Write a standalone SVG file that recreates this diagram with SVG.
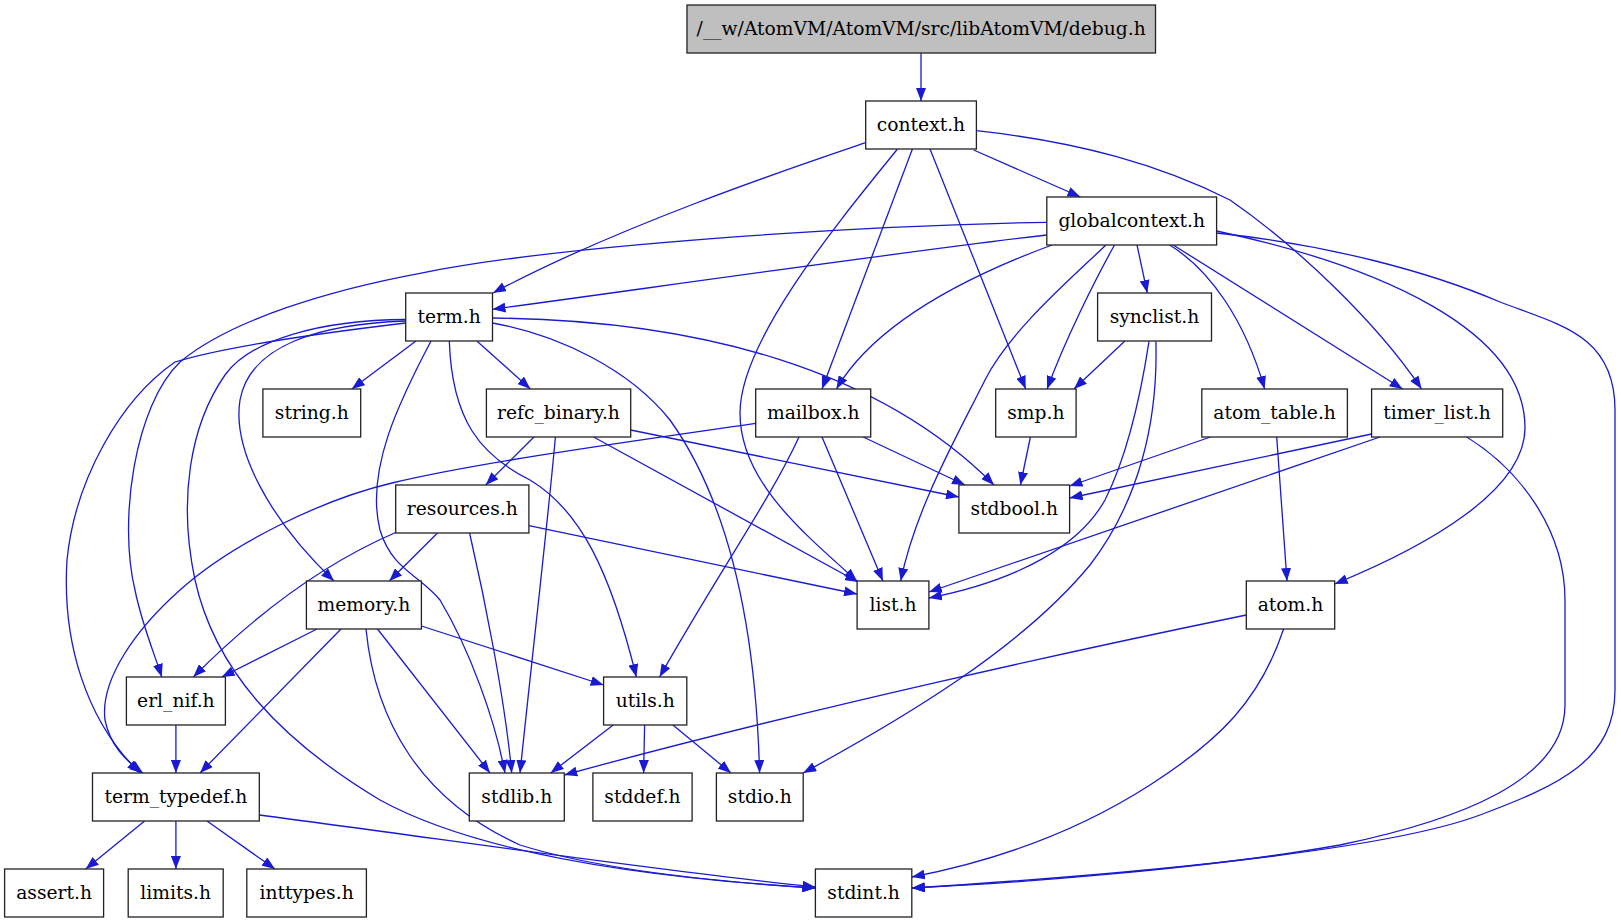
<svg xmlns="http://www.w3.org/2000/svg" width="1621" height="923" viewBox="0 0 1621 923">
<style>
.n rect{fill:#ffffff;stroke:#222222;stroke-width:1.3}
.root rect{fill:#bfbfbf}
.n text{font-family:"DejaVu Serif","Liberation Serif",serif;font-size:18.7px;text-anchor:middle;fill:#000}
#edges path{fill:none;stroke:#1a1ad0;stroke-width:1.3;marker-end:url(#ah)}
</style>
<defs>
<marker id="ah" markerUnits="userSpaceOnUse" markerWidth="14" markerHeight="10" refX="13" refY="5" orient="auto">
<path d="M0,0 L13,5 L0,10 z" fill="#1a1ad0"/>
</marker>
</defs>
<rect width="1621" height="923" fill="#ffffff"/>
<g id="edges">
<path d="M921,53 L921,101"/>
<path d="M865.7,142.7 C800,165 620,225 493,293"/>
<path d="M897.5,149 C840,220 740,340 740,413 C740,480 800,530 857,581"/>
<path d="M912.4,149 L822,389"/>
<path d="M930,149 L1025.7,389"/>
<path d="M973.7,150 L1080.4,197"/>
<path d="M976.4,130.7 C1080,142 1160,165 1230,200 C1295,245 1375,320 1421.6,389"/>
<path d="M1046.8,222.3 C850,226 560,245 420,273.3 C330,290 230,320 180,362 C135,405 118,520 135,590 C142,625 155,655 161.7,677"/>
<path d="M1046.8,235 C900,252 650,288 492.5,309.3"/>
<path d="M1052,245 C990,268 880,315 836.4,389"/>
<path d="M1105.9,245 C1075,275 1010,330 985,380 C955,440 915,510 900.7,581"/>
<path d="M1114.5,245 C1095,280 1065,340 1047.1,389"/>
<path d="M1137,245 L1147.3,293"/>
<path d="M1169.7,245 C1210,270 1245,320 1264.6,389"/>
<path d="M1173.2,245 L1402.6,389"/>
<path d="M1216.6,231 C1380,266 1525,330 1525,427.7 C1525,490 1430,545 1334.7,584"/>
<path d="M1216.6,233 C1330,245 1430,272 1500,302 C1560,325 1615,335 1615,410 L1615,690 C1615,760 1560,785 1480,815 C1400,845 1200,870 911.8,888"/>
<path d="M416,341 L351.8,389"/>
<path d="M476.8,341 L530.4,389"/>
<path d="M405.7,321 C320,324 250,345 240,400 C232,450 270,520 334,581"/>
<path d="M431,341 C400,400 365,470 380,530 C392,570 420,575 440,600 C470,650 495,720 505,773"/>
<path d="M449.3,341 C452,420 480,455 530,480 C580,510 610,570 636.4,677"/>
<path d="M492.5,323 C560,335 630,370 670,420 C720,490 755,600 759.6,773"/>
<path d="M492.5,318 C700,320 880,370 994,485"/>
<path d="M405.7,323 C330,332 230,345 175,362 C120,400 75,480 67,560 C62,640 85,720 140,773"/>
<path d="M405.7,319.5 C320,320 250,340 225,375 C190,425 178,500 195,580 C215,670 280,740 380,800 C480,855 650,878 815.4,888"/>
<path d="M534,437 L485.7,485"/>
<path d="M593.6,437 L858,582"/>
<path d="M630.7,430 L958.9,497"/>
<path d="M437.5,533 L389.3,581"/>
<path d="M395.7,532.5 C320,565 250,620 193.3,677"/>
<path d="M469.6,533 C485,600 505,700 511.7,773"/>
<path d="M528.9,525.7 L857,594"/>
<path d="M555.4,437 C548,520 535,630 520,773"/>
<path d="M317,629 L221.7,677"/>
<path d="M341,629 L200,773"/>
<path d="M377.5,629 L490,773"/>
<path d="M421.4,626 L603.6,685"/>
<path d="M366,629 C375,720 420,800 520,845 C600,870 720,882 815.4,888"/>
<path d="M755.7,423.3 C640,440 480,462 392,483 C320,500 230,545 180,590 C135,630 100,680 105,720 C110,745 125,760 143,773"/>
<path d="M799,437 C770,500 720,570 659.6,677"/>
<path d="M822,437 L882.9,581"/>
<path d="M863.2,437 L965,485"/>
<path d="M1030.4,437 L1020.4,485"/>
<path d="M1124.9,341 L1074,389"/>
<path d="M1149,341.3 C1140,400 1125,460 1105,500 C1080,545 1020,580 928.9,598"/>
<path d="M1155.9,341.3 C1158,420 1140,500 1090,565 C1020,650 900,720 803.2,773"/>
<path d="M1210.4,437 L1069.6,486"/>
<path d="M1276.7,437 L1287,581"/>
<path d="M1371.6,434 L1069.6,498"/>
<path d="M1380,437 L928.9,592"/>
<path d="M1466.7,437 C1520,470 1565,530 1565,600 L1565,705 C1565,780 1460,820 1340,845 C1200,870 1000,884 911.8,888"/>
<path d="M1246.3,615 C1100,645 800,710 564.3,775"/>
<path d="M1283.6,629 C1260,700 1220,740 1150,785 C1080,830 1000,860 911.8,877"/>
<path d="M175.9,725 L175.9,773"/>
<path d="M613.2,725 L550.7,773"/>
<path d="M644.6,725 L643.6,773"/>
<path d="M672.9,725 L731,773"/>
<path d="M144.6,821 L85.7,869"/>
<path d="M175.9,821 L175.9,869"/>
<path d="M207,821 L275,869"/>
<path d="M259.3,815 C450,840 650,870 815.4,887"/>
</g>
<g id="debug_h" class="n root"><rect x="687" y="5" width="468.5" height="48"/><text x="921.2" y="34.5">/__w/AtomVM/AtomVM/src/libAtomVM/debug.h</text></g>
<g id="context_h" class="n"><rect x="865.7" y="101" width="110.7" height="48"/><text x="921" y="130.5">context.h</text></g>
<g id="globalcontext_h" class="n"><rect x="1046.8" y="197" width="169.8" height="48"/><text x="1131.7" y="226.5">globalcontext.h</text></g>
<g id="term_h" class="n"><rect x="405.7" y="293" width="86.8" height="48"/><text x="449.1" y="322.5">term.h</text></g>
<g id="synclist_h" class="n"><rect x="1097.6" y="293" width="113.9" height="48"/><text x="1154.5" y="322.5">synclist.h</text></g>
<g id="string_h" class="n"><rect x="262.9" y="389" width="97.8" height="48"/><text x="311.8" y="418.5">string.h</text></g>
<g id="refc_binary_h" class="n"><rect x="486.4" y="389" width="144.3" height="48"/><text x="558.5" y="418.5">refc_binary.h</text></g>
<g id="mailbox_h" class="n"><rect x="755.7" y="389" width="115" height="48"/><text x="813.2" y="418.5">mailbox.h</text></g>
<g id="smp_h" class="n"><rect x="995.7" y="389" width="80.4" height="48"/><text x="1035.9" y="418.5">smp.h</text></g>
<g id="atom_table_h" class="n"><rect x="1201.8" y="389" width="145.6" height="48"/><text x="1274.6" y="418.5">atom_table.h</text></g>
<g id="timer_list_h" class="n"><rect x="1371.6" y="389" width="131.1" height="48"/><text x="1437.1" y="418.5">timer_list.h</text></g>
<g id="resources_h" class="n"><rect x="395.7" y="485" width="133.2" height="48"/><text x="462.3" y="514.5">resources.h</text></g>
<g id="stdbool_h" class="n"><rect x="958.9" y="485" width="110.7" height="48"/><text x="1014.2" y="514.5">stdbool.h</text></g>
<g id="memory_h" class="n"><rect x="306.4" y="581" width="115" height="48"/><text x="363.9" y="610.5">memory.h</text></g>
<g id="list_h" class="n"><rect x="857.1" y="581" width="71.8" height="48"/><text x="893" y="610.5">list.h</text></g>
<g id="atom_h" class="n"><rect x="1246.3" y="581" width="88.4" height="48"/><text x="1290.5" y="610.5">atom.h</text></g>
<g id="erl_nif_h" class="n"><rect x="126.4" y="677" width="99" height="48"/><text x="175.9" y="706.5">erl_nif.h</text></g>
<g id="utils_h" class="n"><rect x="603.6" y="677" width="83.2" height="48"/><text x="645.2" y="706.5">utils.h</text></g>
<g id="term_typedef_h" class="n"><rect x="92.5" y="773" width="166.8" height="48"/><text x="175.9" y="802.5">term_typedef.h</text></g>
<g id="stdlib_h" class="n"><rect x="469.3" y="773" width="95" height="48"/><text x="516.8" y="802.5">stdlib.h</text></g>
<g id="stddef_h" class="n"><rect x="592.9" y="773" width="99.2" height="48"/><text x="642.5" y="802.5">stddef.h</text></g>
<g id="stdio_h" class="n"><rect x="716.4" y="773" width="86.8" height="48"/><text x="759.8" y="802.5">stdio.h</text></g>
<g id="assert_h" class="n"><rect x="4.6" y="869" width="99" height="48"/><text x="54.1" y="898.5">assert.h</text></g>
<g id="limits_h" class="n"><rect x="128.2" y="869" width="95" height="48"/><text x="175.7" y="898.5">limits.h</text></g>
<g id="inttypes_h" class="n"><rect x="246.8" y="869" width="119.6" height="48"/><text x="306.6" y="898.5">inttypes.h</text></g>
<g id="stdint_h" class="n"><rect x="815.4" y="869" width="96.4" height="48"/><text x="863.6" y="898.5">stdint.h</text></g>
</svg>
